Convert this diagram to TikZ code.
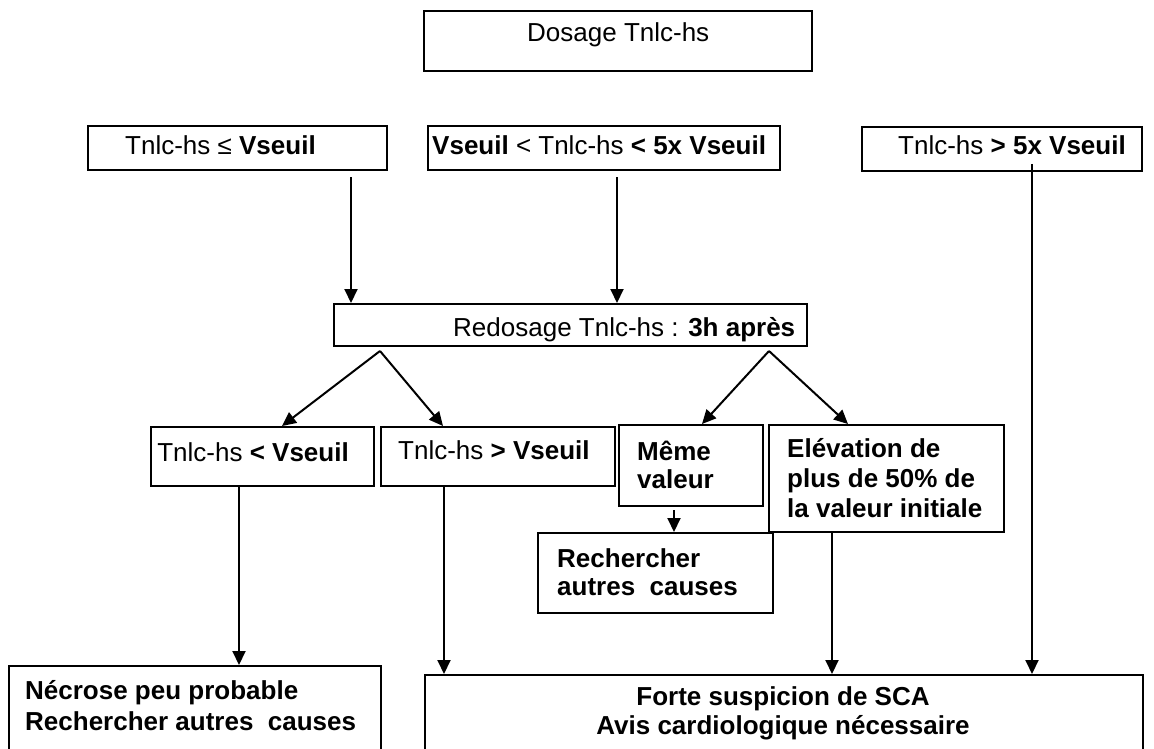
\documentclass[tikz,border=0pt]{standalone}
\usepackage{fontspec}
\setmainfont{Liberation Sans}
\usetikzlibrary{arrows.meta}
\begin{document}
\begin{tikzpicture}[x=1pt,y=-1pt,
  box/.style={draw, line width=2pt, inner sep=0pt, anchor=north west},
  txt/.style={inner sep=0pt, anchor=base west, font=\fontsize{26}{29}\selectfont},
  txtb/.style={txt, font=\fontsize{26}{29}\selectfont\bfseries},
  txtc/.style={inner sep=0pt, anchor=base, font=\fontsize{26}{29}\selectfont\bfseries},
  arr/.style={line width=2pt, -{Triangle[length=14pt,width=13pt]}}]
\useasboundingbox (0,0) rectangle (1154,749);
% boxes
\node[box, minimum width=388pt, minimum height=60pt] (dos) at (423,10) {};
\node[box, minimum width=299pt, minimum height=44pt] (b1) at (87,125) {};
\node[box, minimum width=352pt, minimum height=44pt] (b2) at (427,125) {};
\node[box, minimum width=280pt, minimum height=44pt] (b3) at (861,126) {};
\node[box, minimum width=473pt, minimum height=42pt] (redo) at (333,303) {};
\node[box, minimum width=223pt, minimum height=59pt] (lt) at (150,426) {};
\node[box, minimum width=234pt, minimum height=59pt] (gt) at (380,426) {};
\node[box, minimum width=144pt, minimum height=81pt] (meme) at (618,424) {};
\node[box, minimum width=235pt, minimum height=107pt] (elev) at (768,424) {};
\node[box, minimum width=235pt, minimum height=80pt] (rech) at (537,532) {};
\node[box, minimum width=372pt, minimum height=100pt] (necr) at (8,665) {};
\node[box, minimum width=718pt, minimum height=100pt] (forte) at (424,674) {};
% texts
\node[txt] (tdos) at (527,42) {Dosage Tnlc-hs};
\node[txt] (tb1) at (125,155) {Tnlc-hs ≤ \textbf{Vseuil}};
\node[txt] (tb2) at (432,155) {\textbf{Vseuil} < Tnlc-hs \textbf{< 5x Vseuil}};
\node[txt] (tb3) at (898,155) {Tnlc-hs \textbf{> 5x Vseuil}};
\node[txt] (tredo) at (453,336) {Redosage Tnlc-hs : \textbf{3h après}};
\node[txt, anchor=base east] (tlt) at (349,461) {Tnlc-hs \textbf{< Vseuil}};
\node[txt] (tgt) at (398,459) {Tnlc-hs \textbf{> Vseuil}};
\node[txtb] (tme1) at (637,460) {Même};
\node[txtb] (tme2) at (637,488) {valeur};
\node[txtb] (tel1) at (787,457) {Elévation de};
\node[txtb] (tel2) at (787,487) {plus de 50\% de};
\node[txtb] (tel3) at (787,517) {la valeur initiale};
\node[txtb] (tre1) at (557,567) {Rechercher};
\node[txtb] (tre2) at (557,595) {autres\ \ causes};
\node[txtb] (tne1) at (25,699) {Nécrose peu probable};
\node[txtb] (tne2) at (25,730) {Rechercher autres\ \ causes};
\node[txtc] (tfo1) at (783,705) {Forte suspicion de SCA};
\node[txtc] (tfo2) at (783,734) {Avis cardiologique nécessaire};
% x positions of connectors
\coordinate (x1) at (351,0);
\coordinate (x2) at (617,0);
\coordinate (x3) at (1032,0);
\coordinate (xl) at (380,0);
\coordinate (xr) at (769,0);
\coordinate (xlt) at (282,0);
\coordinate (xgt) at (443,0);
\coordinate (xme) at (702,0);
\coordinate (xel) at (848,0);
\coordinate (xne) at (239,0);
\coordinate (xfo) at (444,0);
\coordinate (xre) at (674,0);
\coordinate (xfe) at (832,0);
% connectors
\draw[arr] ([yshift=-6pt]b1.south -| x1) -- (redo.north -| x1);
\draw[arr] ([yshift=-6pt]b2.south -| x2) -- (redo.north -| x2);
\draw[arr] ([yshift=8pt]b3.south -| x3) -- (forte.north -| x3);
\draw[arr] ([yshift=-4pt]redo.south -| xl) -- (lt.north -| xlt);
\draw[arr] ([yshift=-4pt]redo.south -| xl) -- (gt.north -| xgt);
\draw[arr] ([yshift=-4pt]redo.south -| xr) -- (meme.north -| xme);
\draw[arr] ([yshift=-4pt]redo.south -| xr) -- (elev.north -| xel);
\draw[arr] (lt.south -| xne) -- (necr.north -| xne);
\draw[arr] (gt.south -| xfo) -- (forte.north -| xfo);
\draw[arr] ([yshift=-3pt]meme.south -| xre) -- (rech.north -| xre);
\draw[arr] (elev.south -| xfe) -- (forte.north -| xfe);
\end{tikzpicture}
\end{document}
